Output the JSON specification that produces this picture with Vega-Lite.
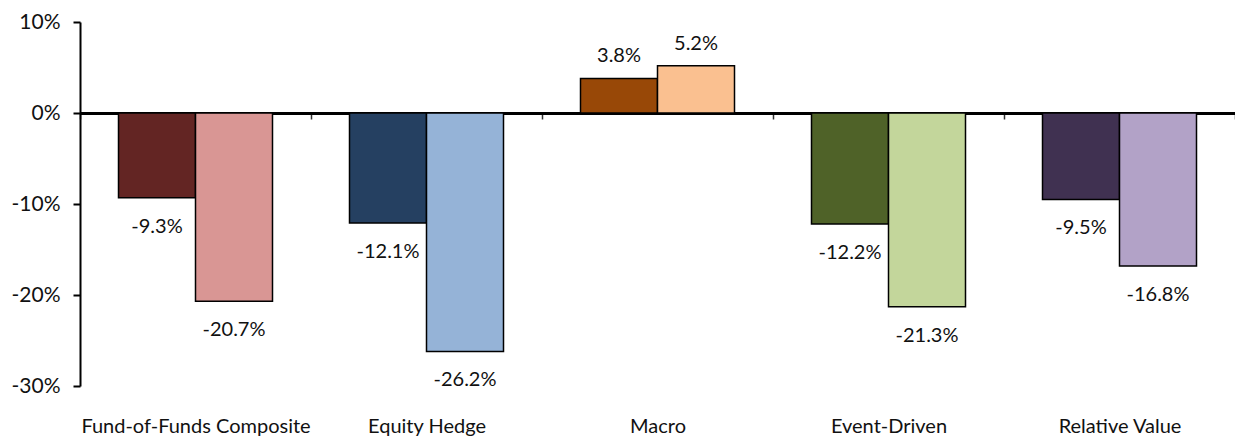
{
  "$schema": "https://vega.github.io/schema/vega-lite/v6.json",
  "width": 1155,
  "height": 364,
  "autosize": {"type": "none"},
  "padding": {"left": 80, "top": 22, "right": 0, "bottom": 51},
  "config": {"view": {"stroke": null}, "font": "Lato"},
  "data": {
    "values": [
      {"category": "Fund-of-Funds Composite", "series": "A", "bar": "FoF-A", "value": -0.093},
      {"category": "Fund-of-Funds Composite", "series": "B", "bar": "FoF-B", "value": -0.207},
      {"category": "Equity Hedge", "series": "A", "bar": "EH-A", "value": -0.121},
      {"category": "Equity Hedge", "series": "B", "bar": "EH-B", "value": -0.262},
      {"category": "Macro", "series": "A", "bar": "M-A", "value": 0.038},
      {"category": "Macro", "series": "B", "bar": "M-B", "value": 0.052},
      {"category": "Event-Driven", "series": "A", "bar": "ED-A", "value": -0.122},
      {"category": "Event-Driven", "series": "B", "bar": "ED-B", "value": -0.213},
      {"category": "Relative Value", "series": "A", "bar": "RV-A", "value": -0.095},
      {"category": "Relative Value", "series": "B", "bar": "RV-B", "value": -0.168}
    ]
  },
  "transform": [
    {"calculate": "replace(format(datum.value, '.1%'), '\u2212', '-')", "as": "label"}
  ],
  "encoding": {
    "x": {
      "field": "category",
      "type": "nominal",
      "sort": null,
      "scale": {"paddingInner": 0, "paddingOuter": 0},
      "axis": {
        "title": null,
        "orient": "bottom",
        "offset": -273,
        "domainColor": "black",
        "domainWidth": 3,
        "tickColor": "#333333",
        "tickWidth": 1.5,
        "tickSize": 6,
        "tickBand": "extent",
        "labelAngle": 0,
        "labelFontSize": 20,
        "labelLimit": 0,
        "labelColor": "#111111",
        "labelPadding": 297,
        "labelBaseline": "top"
      }
    },
    "xOffset": {"field": "series", "type": "nominal", "scale": {"paddingInner": 0, "paddingOuter": 0.5}},
    "y": {
      "field": "value",
      "type": "quantitative",
      "scale": {"domain": [-0.3, 0.1], "nice": false},
      "axis": {
        "title": null,
        "values": [-0.3, -0.2, -0.1, 0, 0.1],
        "format": ".0%",
        "labelExpr": "replace(datum.label, '\u2212', '-')",
        "grid": false,
        "domainColor": "black",
        "domainWidth": 2,
        "tickColor": "black",
        "tickWidth": 2,
        "tickSize": 7,
        "labelPadding": 13,
        "labelFontSize": 21,
        "labelColor": "#111111"
      }
    }
  },
  "layer": [
    {
      "mark": {"type": "bar", "stroke": "black", "strokeWidth": 1.5},
      "encoding": {
        "color": {
          "field": "bar",
          "type": "nominal",
          "legend": null,
          "scale": {
            "domain": ["FoF-A", "FoF-B", "EH-A", "EH-B", "M-A", "M-B", "ED-A", "ED-B", "RV-A", "RV-B"],
            "range": ["#632523", "#D99694", "#254061", "#95B3D7", "#984807", "#FAC090", "#4F6228", "#C3D69B", "#403151", "#B2A2C7"]
          }
        }
      }
    },
    {
      "transform": [{"filter": "datum.value < 0"}],
      "mark": {"type": "text", "baseline": "middle", "dy": 29, "fontSize": 20, "color": "#111111"},
      "encoding": {"text": {"field": "label", "type": "nominal"}}
    },
    {
      "transform": [{"filter": "datum.value >= 0"}],
      "mark": {"type": "text", "baseline": "middle", "dy": -22, "fontSize": 20, "color": "#111111"},
      "encoding": {"text": {"field": "label", "type": "nominal"}}
    }
  ]
}
